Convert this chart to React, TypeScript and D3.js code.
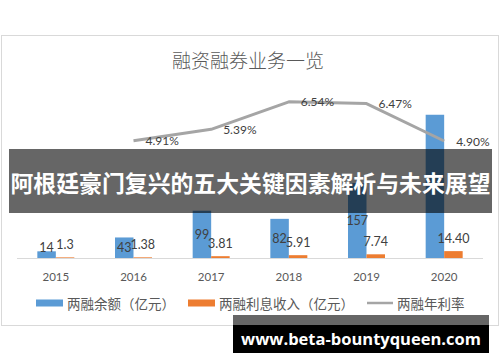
import React from 'react'
import { scaleBand, scaleLinear, line } from 'd3'

const years = ['2015', '2016', '2017', '2018', '2019', '2020']
const balance = [14, 43, 99, 82, 157, 300]
// the 2020 balance label sits behind the banner in the reference
const balanceLabels = ['14', '43', '99', '82', '157', '']
const interest = [1.3, 1.38, 3.81, 5.91, 7.74, 14.4]
const interestLabels = ['1.3', '1.38', '3.81', '5.91', '7.74', '14.40']
const rate: (number | null)[] = [null, 4.91, 5.39, 6.54, 6.47, 4.9]

const legendItems = [
  { label: '两融余额（亿元）', color: '#5B9BD5', kind: 'bar' },
  { label: '两融利息收入（亿元）', color: '#ED7D31', kind: 'bar' },
  { label: '两融年利率', color: '#A5A5A5', kind: 'line' },
]

const W = 500
const H = 362
const plot = { left: 17, right: 483, top: 67, bottom: 258 }
const numFont = 'Lato, "Open Sans", sans-serif'
const cjkFont = '"Noto Sans CJK SC", "Noto Sans", sans-serif'

export default function App() {
  const x = scaleBand<string>().domain(years).range([plot.left, plot.right]).padding(0)
  const y = scaleLinear().domain([0, 400]).range([plot.bottom, plot.top])
  const yRate = scaleLinear().domain([0, 8]).range([plot.bottom, plot.top])
  const barW = 18.5
  const cx = (d: string) => (x(d) ?? 0) + x.bandwidth() / 2

  const ratePts = years
    .map((d, i) => ({ d, v: rate[i] }))
    .filter((p) => p.v !== null) as { d: string; v: number }[]
  const ratePath = line<{ d: string; v: number }>()
    .x((p) => cx(p.d))
    .y((p) => yRate(p.v))(ratePts)

  const legendX = [36, 188, 367]

  return (
    <div style={{ position: 'fixed', left: 0, top: 0 }}>
      <svg width={W} height={H} style={{ display: 'block', background: '#fff' }}>
        {/* chart frame */}
        <rect x={1.5} y={35.5} width={497} height={290} fill="#fff" stroke="#D9D9D9" />

        <text x={248} y={59} textAnchor="middle" dominantBaseline="central"
          fontFamily={cjkFont} fontSize={19} fontWeight={300} fill="#595959">融资融券业务一览</text>

        {/* axis line */}
        <line x1={plot.left} x2={plot.right} y1={plot.bottom + 0.5} y2={plot.bottom + 0.5} stroke="#D9D9D9" />

        {years.map((d, i) => (
          <g key={d}>
            <rect x={cx(d) - barW} y={y(balance[i])} width={barW} height={plot.bottom - y(balance[i])} fill="#5B9BD5" />
            <rect x={cx(d)} y={y(interest[i])} width={barW} height={plot.bottom - y(interest[i])} fill="#ED7D31" />
            {balanceLabels[i] && (
              <text x={cx(d) - barW / 2} y={Math.min(y(balance[i] / 2), plot.bottom - 11)}
                textAnchor="middle" dominantBaseline="central" fontFamily={numFont} fontSize={12.5} fill="#404040">
                {balanceLabels[i]}
              </text>
            )}
            <text x={cx(d) + barW / 2} y={Math.min(y(interest[i]) - 13, plot.bottom - 12)}
              textAnchor="middle" dominantBaseline="central" fontFamily={numFont} fontSize={12.5} fill="#404040">
              {interestLabels[i]}
            </text>
            <text x={cx(d)} y={276} textAnchor="middle" dominantBaseline="central"
              fontFamily={numFont} fontSize={11.5} fill="#595959">{d}</text>
          </g>
        ))}

        <path d={ratePath ?? ''} fill="none" stroke="#A5A5A5" strokeWidth={3} strokeLinejoin="round" />
        {ratePts.map((p) => (
          <text key={p.d} x={cx(p.d) + 12} y={yRate(p.v)} dominantBaseline="central"
            fontFamily={numFont} fontSize={12} fill="#404040">{p.v.toFixed(2)}%</text>
        ))}

        {/* legend */}
        {legendItems.map((it, i) => (
          <g key={it.label} transform={`translate(${legendX[i]},303)`}>
            {it.kind === 'bar'
              ? <rect x={0} y={-3.5} width={27} height={7} fill={it.color} />
              : <line x1={0} x2={26} y1={0} y2={0} stroke={it.color} strokeWidth={2.5} />}
            <text x={it.kind === 'bar' ? 31 : 30} y={0} dominantBaseline="central"
              fontFamily={cjkFont} fontSize={13.5} fill="#595959">{it.label}</text>
          </g>
        ))}

        {/* overlay banner */}
        <rect x={9} y={149} width={483} height={64} fill="#000" fillOpacity={0.6} />
        <text x={250.5} y={182} textAnchor="middle" dominantBaseline="central"
          fontFamily={cjkFont} fontWeight="bold" fontSize={23} textLength={480} lengthAdjust="spacingAndGlyphs"
          fill="#fff">阿根廷豪门复兴的五大关键因素解析与未来展望</text>

        {/* url box */}
        <rect x={233} y={315} width={256} height={10} fill="#666" />
        <rect x={233} y={325} width={256} height={28} fill="#000" />
        <text x={361} y={338} textAnchor="middle" dominantBaseline="central"
          fontFamily='"Open Sans", "DejaVu Sans", sans-serif' fontWeight="bold" fontSize={16.5} fill="#fff">www.beta-bountyqueen.com</text>
      </svg>
    </div>
  )
}
